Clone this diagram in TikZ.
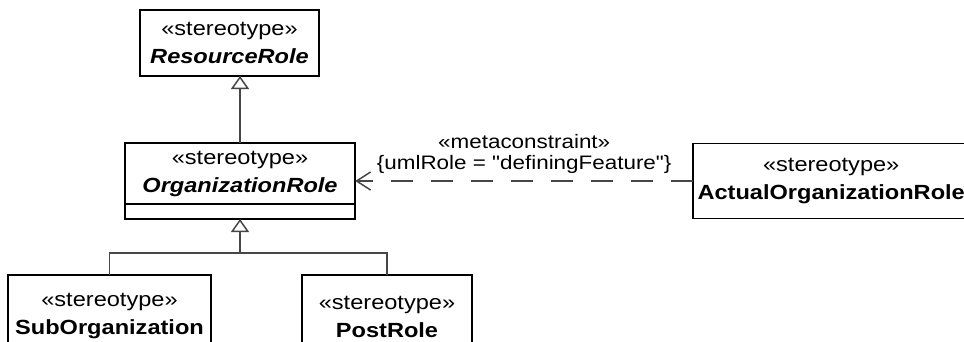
\documentclass[tikz,border=0pt]{standalone}
\usepackage{fontspec}
\setmainfont{Liberation Sans}[FakeStretch=1.15, Ligatures=TeXOff]
\usetikzlibrary{arrows.meta, positioning, fit}
\definecolor{linegray}{RGB}{70,70,70}
\tikzset{
  stereo/.style  = {draw=black, line width=1.8pt, fill=white, align=center,
                    inner sep=0pt, outer sep=0pt,
                    font=\fontsize{20.5}{28}\selectfont},
  compart/.style = {draw=black, line width=1.8pt, fill=white,
                    inner sep=0pt, outer sep=0pt, minimum height=15pt},
  gen/.style     = {-{Triangle[open, length=13pt, width=18pt]}, line width=1.5pt, color=linegray},
  genline/.style = {line width=1.5pt, color=linegray},
  dep/.style     = {-{Straight Barb[length=14pt, width=18pt]}, line width=1.5pt,
                    color=linegray, dash pattern=on 22pt off 18pt},
  lbl/.style     = {font=\fontsize{19.5}{21}\selectfont, align=center, text=black},
}

\begin{document}
\begin{tikzpicture}
  \useasboundingbox (0,0) rectangle (964pt,-341pt);

  % Top stereotype
  \node[stereo, minimum width=179pt, minimum height=66pt] (res) at (229.5pt,-43pt)
    {«stereotype»\\\textbf{\textit{ResourceRole}}};

  % Middle stereotype with empty compartment
  \node[stereo, below=67pt of res, xshift=10.5pt, minimum width=230pt, minimum height=61pt] (org)
    {«stereotype»\\\textbf{\textit{OrganizationRole}}};
  \node[compart, below=0pt of org, minimum width=230pt] (orgattr) {};
  \node[fit=(org)(orgattr), inner sep=0pt] (orgbox) {};
  \draw[gen] (org.north) -- (org.north |- res.south);

  % Constraint source
  \node[stereo, right=338pt of orgbox, minimum width=276pt, minimum height=75pt] (actual)
    {«stereotype»\\\textbf{ActualOrganizationRole}};
  \draw[dep] (actual.west) -- node[lbl, yshift=27.5pt]
    {«metaconstraint»\\\{umlRole = "definingFeature"\}} (orgbox.east);

  % Sub stereotypes
  \node[stereo, below=56pt of orgattr, xshift=-130.5pt, minimum width=203pt, minimum height=83pt] (subo)
    {«stereotype»\\\textbf{SubOrganization}};
  \node[stereo, right=91pt of subo, minimum width=170pt, minimum height=83pt] (post)
    {«stereotype»\\\textbf{PostRole}};

  \coordinate[below=34pt of orgattr.south] (joint);
  \draw[genline] (subo.north) |- (joint);
  \draw[genline] (post.north) |- (joint);
  \draw[gen] (joint) -- (orgattr.south);

\end{tikzpicture}
\end{document}
